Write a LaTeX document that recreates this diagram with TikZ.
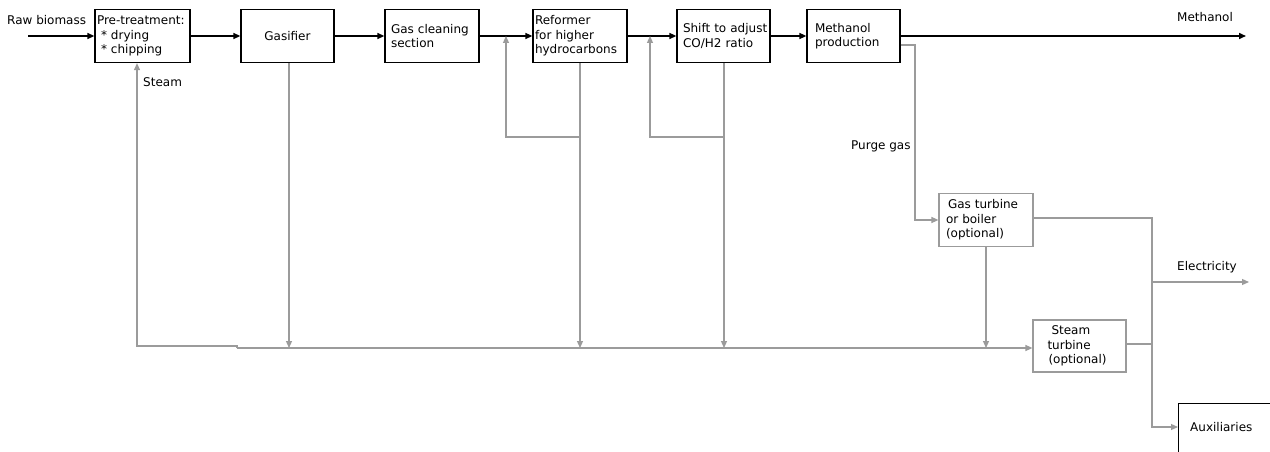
\documentclass[tikz,border=0pt]{standalone}
\usepackage{fontspec}
\setmainfont{DejaVu Sans}
\usetikzlibrary{arrows.meta}
\definecolor{lg}{RGB}{155,155,155}
\begin{document}
\begin{tikzpicture}[x=1pt,y=-1pt,
  every node/.style={font=\fontsize{12}{14.5}\selectfont, inner sep=0pt},
  bbox/.style={draw=black, line width=1.3pt, rectangle, align=left},
  gbox/.style={draw=lg, line width=1.2pt, rectangle, align=left},
  barrow/.style={draw=black, line width=1.5pt, -{Triangle[length=7pt,width=6pt]}},
  garrow/.style={draw=lg, line width=1.2pt, -{Triangle[length=7pt,width=6pt]}},
  gline/.style={draw=lg, line width=1.2pt},
  lbl/.style={anchor=west}
]
\useasboundingbox (0,0) rectangle (1270,452);
\clip (0,0) rectangle (1270,452);
\fill[white] (0,0) rectangle (1270,452);

% boxes
\node[bbox, minimum width=95pt, minimum height=53pt, text width=91pt, inner xsep=2pt] (pre) at (142.5,36) {Pre-treatment:\\\ * drying\\\ * chipping};
\node[bbox, minimum width=93pt, minimum height=53pt, align=center] (gas) at (287.5,36) {Gasifier};
\node[bbox, minimum width=94pt, minimum height=53pt, text width=82pt, inner xsep=6pt] (clean) at (432,36) {Gas cleaning\\section};
\node[bbox, minimum width=94pt, minimum height=53pt, text width=90pt, inner xsep=2pt] (ref) at (580,36) {Reformer\\for higher\\hydrocarbons};
\node[bbox, minimum width=93pt, minimum height=53pt, text width=89pt, inner xsep=2pt] (shift) at (723.5,36) {\hspace*{4pt}Shift to adjust\\\hspace*{4pt}CO/H2 ratio};
\node[bbox, minimum width=93pt, minimum height=53pt, text width=77pt, inner xsep=8pt] (meoh) at (853.5,36) {Methanol\\production\\[3pt]};
\node[gbox, minimum width=94pt, minimum height=53pt, text width=80pt, inner xsep=7pt] (gt) at (986,220) {\hspace*{2pt}Gas turbine\\or boiler\\(optional)};
\node[gbox, minimum width=93pt, minimum height=52pt, text width=78pt, inner xsep=7pt] (st) at (1079.5,346) {\hspace*{11pt}Steam\\\hspace*{7pt}turbine\\\hspace*{8pt}(optional)};
\node[bbox, anchor=north west, minimum width=120pt, minimum height=80pt] (aux) at (1178,403) {};
\node[lbl] (auxl) at (1190,427) {Auxiliaries};

% labels
\node[lbl] (rawl) at (7,20) {Raw biomass};
\node[lbl] (steaml) at (143,82) {Steam};
\node[lbl] (meohl) at (1177,17) {Methanol};
\node[lbl] (purgel) at (851,146) {Purge gas};
\node[lbl] (elecl) at (1177,267) {Electricity};

% coordinates
\coordinate (rawin) at (28,36);
\coordinate (meout) at (1246,36);
\coordinate (j1) at (237,346);
\coordinate (j2) at (237,348);
\coordinate (sb) at (137,346);
\coordinate (r1) at (506,137);
\coordinate (s1) at (650,137);
\coordinate (sd) at (724,137);
\coordinate (p1) at (915,45);
\coordinate (p2) at (915,220);
\coordinate (e1) at (1152,218);
\coordinate (e2) at (1152,427);
\coordinate (e3) at (1152,282);
\coordinate (eout) at (1249,282);

% black flow
\draw[barrow] (rawin) -- (pre.west);
\draw[barrow] (pre.east) -- (gas.west);
\draw[barrow] (gas.east) -- (clean.west);
\draw[barrow] (clean.east) -- (ref.west);
\draw[barrow] (ref.east) -- (shift.west);
\draw[barrow] (shift.east) -- (meoh.west);
\draw[barrow] (meoh.east) -- (meout);

% gray steam network
\draw[garrow] (j2) -- (j1) -- (sb) -- (sb |- pre.south);
\draw[garrow] (j2) -- (st.west |- j2);
\draw[garrow] (gas.south -| 289,0) -- (289,348);
\draw[garrow] (ref.south) -- (ref.south |- j2);
\draw[garrow] (ref.south |- r1) -- (r1) -- (r1 |- clean.east);
\draw[garrow] (sd |- shift.south) -- (sd |- j2);
\draw[garrow] (sd) -- (s1) -- (s1 |- ref.east);
\draw[garrow] (meoh.east |- p1) -- (p1) -- (p2) -- (gt.west |- p2);
\draw[garrow] (gt.south) -- (gt.south |- j2);
\draw[garrow] (gt.east |- e1) -- (e1) -- (e2) -- (aux.west |- e2);
\draw[garrow] (e3) -- (eout);
\draw[gline] (st.east |- 0,344) -- (1152,344);
\end{tikzpicture}
\end{document}
